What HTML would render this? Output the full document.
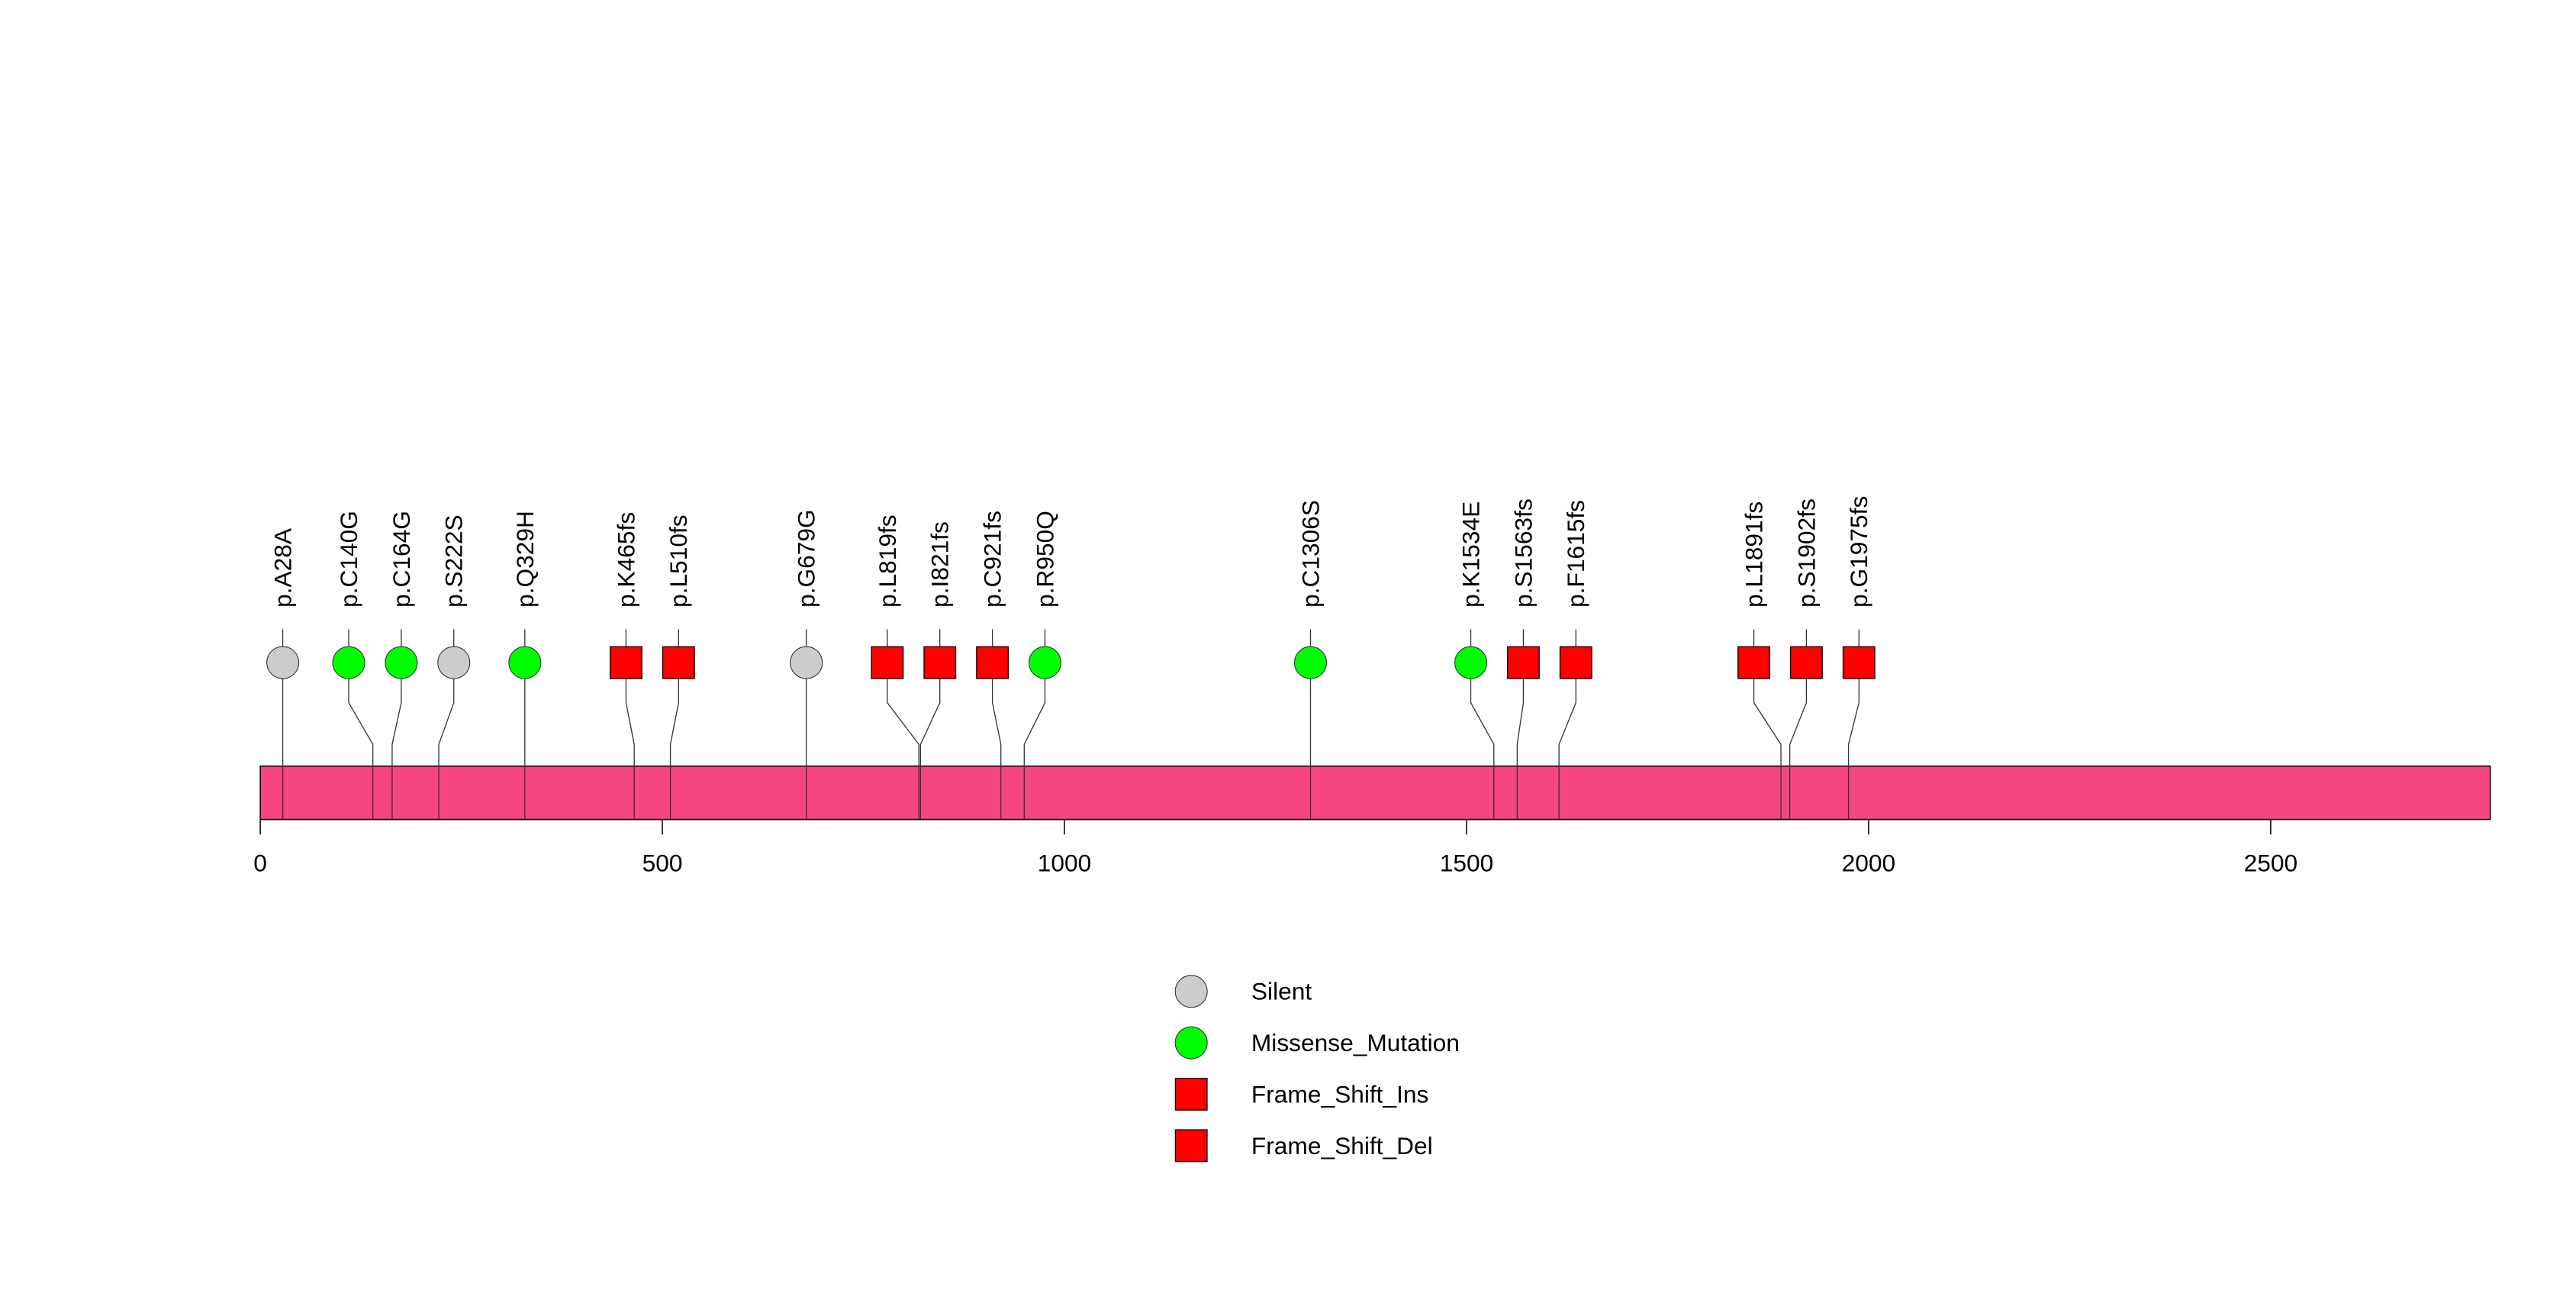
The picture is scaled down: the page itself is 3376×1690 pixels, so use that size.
<!DOCTYPE html>
<html><head><meta charset="utf-8"><style>
html,body{margin:0;padding:0;background:#fff}
svg{display:block}
text{font-family:"Liberation Sans",Arial,sans-serif;fill:#000}
</style></head><body>
<svg id="chart" width="3376" height="1690" viewBox="0 0 1544 772.9" xmlns="http://www.w3.org/2000/svg">
<rect x="0" y="0" width="1544" height="773" fill="#fff"/>
<g id="lines"></g><g id="marks"></g><g id="labels"></g><g id="axis"></g><g id="legend"></g>
</svg>
<script>
const mutLabels = ["p.A28A","p.C140G","p.C164G","p.S222S","p.Q329H","p.K465fs","p.L510fs","p.G679G","p.L819fs","p.I821fs","p.C921fs","p.R950Q","p.C1306S","p.K1534E","p.S1563fs","p.F1615fs","p.L1891fs","p.S1902fs","p.G1975fs"];
const mutPositions = [28,140,164,222,329,465,510,679,819,821,921,950,1306,1534,1563,1615,1891,1902,1975];
const mutTypes = ["Silent","Missense_Mutation","Missense_Mutation","Silent","Missense_Mutation","Frame_Shift_Del","Frame_Shift_Del","Silent","Frame_Shift_Del","Frame_Shift_Del","Frame_Shift_Del","Missense_Mutation","Missense_Mutation","Missense_Mutation","Frame_Shift_Del","Frame_Shift_Del","Frame_Shift_Del","Frame_Shift_Del","Frame_Shift_Del"];
const proteinLength = [2773];
const tickValues = [0,500,1000,1500,2000,2500];
const legendTypes = ["Silent","Missense_Mutation","Frame_Shift_Ins","Frame_Shift_Del"];

const NS="http://www.w3.org/2000/svg";
const X0=156, PX=0.482;
const xs=v=>X0+v*PX;
const colors={Silent:"#cccccc",Missense_Mutation:"#00ff00",Frame_Shift_Ins:"#ff0000",Frame_Shift_Del:"#ff0000"};
const isSquare=t=>t.indexOf("Frame_Shift")===0;
function mk(tag,attrs,parent){const e=document.createElementNS(NS,tag);for(const k in attrs)e.setAttribute(k,attrs[k]);document.getElementById(parent).appendChild(e);return e;}
function marker(t,cx,cy,parent){
  if(isSquare(t)) return mk("rect",{x:cx-9.5,y:cy-9.5,width:19,height:19,fill:colors[t],stroke:"#000","stroke-width":0.6},parent);
  return mk("circle",{cx:cx,cy:cy,r:9.6,fill:colors[t],stroke:"#333","stroke-width":0.5},parent);
}
// repel display positions
const SP=31.5;
let groups=mutPositions.map((p,i)=>({idx:[i],c:xs(p)}));
let changed=true;
while(changed){changed=false;
  for(let g=0;g<groups.length-1;g++){
    const a=groups[g],b=groups[g+1];
    const aEnd=a.c+(a.idx.length-1)*SP/2, bStart=b.c-(b.idx.length-1)*SP/2;
    if(bStart-aEnd<SP){
      const idx=a.idx.concat(b.idx);
      const c=idx.reduce((s,i)=>s+xs(mutPositions[i]),0)/idx.length;
      groups.splice(g,2,{idx:idx,c:c});changed=true;break;}
  }}
const disp=[];
groups.forEach(g=>g.idx.forEach((i,k)=>{disp[i]=g.c+(k-(g.idx.length-1)/2)*SP;}));

// protein bar
const bar=mk("rect",{x:xs(0),y:459,width:xs(proteinLength[0])-xs(0),height:32,fill:"#f6467f",stroke:"#000","stroke-width":0.7},"lines");



mutPositions.forEach((p,i)=>{
  const tx=xs(p),dx=disp[i];
  const l=mk("polyline",{points:`${tx},491 ${tx},446 ${dx},421 ${dx},377`,fill:"none",stroke:"#333","stroke-width":0.6},"lines");
  
  
  const m=marker(mutTypes[i],dx,397,"marks");
  
  
  const t=mk("text",{x:0,y:0,transform:`translate(${dx+5},364) rotate(-90)`,"font-size":14.5},"labels");
  t.textContent=mutLabels[i];
  
  
});

// axis
const ax=mk("line",{x1:xs(tickValues[0]),x2:xs(tickValues[tickValues.length-1]),y1:491,y2:491,stroke:"#000","stroke-width":0.7},"axis");


tickValues.forEach(v=>{
  const tk=mk("line",{x1:xs(v),x2:xs(v),y1:491,y2:500,stroke:"#000","stroke-width":0.7},"axis");
  
  
  const tl=mk("text",{x:xs(v),y:522,"text-anchor":"middle","font-size":14.5},"axis");
  tl.textContent=String(v);
  
  
});

// legend
legendTypes.forEach((t,k)=>{
  const y=594+k*30.8;
  const m=marker(t,714,y,"legend");
  
  
  const tx=mk("text",{x:750,y:y+5,"font-size":14.5},"legend");
  tx.textContent=t;
  
  
});
</script>
</body></html>
